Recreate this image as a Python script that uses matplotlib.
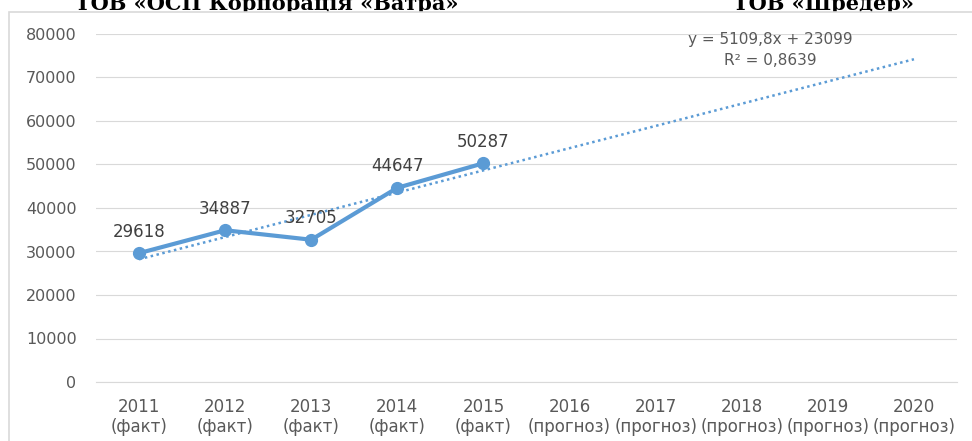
import matplotlib
matplotlib.use("Agg")
import matplotlib.pyplot as plt
from matplotlib.patches import Rectangle
import numpy as np

plt.rcParams['font.family'] = ['DejaVu Sans']

years = ['2011', '2012', '2013', '2014', '2015', '2016', '2017', '2018', '2019', '2020']
kinds = ['(факт)'] * 5 + ['(прогноз)'] * 5
values = [29618, 34887, 32705, 44647, 50287]
yticks = [0, 10000, 20000, 30000, 40000, 50000, 60000, 70000, 80000]
title_left = 'ТОВ «ОСП Корпорація «Ватра»'
title_right = 'ТОВ «Шредер»'

W, H = 972, 441
fig = plt.figure(figsize=(W / 100, H / 100), dpi=100)
fig.patch.set_facecolor('white')

# cut-off heading texts behind the chart frame
fig.text(75 / W, 1 - 10 / H, title_left, family='DejaVu Serif', weight='bold',
         fontsize=15, ha='left', va='baseline', color='black', zorder=0.5)
fig.text(733 / W, 1 - 10 / H, title_right, family='DejaVu Serif', weight='bold',
         fontsize=15, ha='left', va='baseline', color='black', zorder=0.5)

# chart frame
frame = Rectangle((9 / W, -0.05), 1.1, 1 - 12 / H + 0.05, transform=fig.transFigure,
                  facecolor='white', edgecolor='#d9d9d9', linewidth=1.2, zorder=1)
fig.add_artist(frame)

ax = fig.add_axes([96 / W, 1 - 382 / H, 861 / W, 348 / H], zorder=2)
ax.set_facecolor('none')

blue = '#5B9BD5'
n = len(years)
xs = np.arange(n)
xfit = np.arange(1, len(values) + 1)
coef = np.polyfit(xfit, values, 1)
pred = np.polyval(coef, xfit)
r2 = 1 - np.sum((np.array(values) - pred) ** 2) / np.sum((np.array(values) - np.mean(values)) ** 2)
xtr = np.arange(1, n + 1)
ax.plot(xs, np.polyval(coef, xtr), color=blue, linewidth=1.8,
        linestyle=(0, (1, 1.4)), zorder=3)

ax.plot(xs[:len(values)], values, color=blue, linewidth=3.0, marker='o',
        markersize=8.5, zorder=4)
for x, v in zip(xs, values):
    ax.annotate(f'{v}', (x, v), xytext=(0, 15.5), textcoords='offset points',
                ha='center', va='center', fontsize=12, color='#404040', zorder=5)

def fmt(v, d):
    return f'{v:.{d}f}'.replace('.', ',')

ax.text(0.783, 0.985, f'y = {fmt(coef[0], 1)}x + {coef[1]:.0f}', transform=ax.transAxes,
        ha='center', va='center', fontsize=11, color='#595959')
ax.text(0.783, 0.924, f'R² = {fmt(r2, 4)}', transform=ax.transAxes,
        ha='center', va='center', fontsize=11, color='#595959')

ax.set_xlim(-0.5, n - 0.5)
ax.set_ylim(0, 80000)
ax.set_yticks(yticks)
ax.set_yticklabels([str(t) for t in yticks])
ax.set_xticks(xs)
ax.set_xticklabels([f'{y}\n{k}' for y, k in zip(years, kinds)], linespacing=1.12)
ax.tick_params(axis='y', length=0, pad=14, labelsize=11.5, labelcolor='#595959')
ax.tick_params(axis='x', length=0, pad=11.5, labelsize=12, labelcolor='#595959')
ax.grid(axis='y', color='#d9d9d9', linewidth=0.8)
ax.set_axisbelow(True)
for s in ['top', 'right', 'left']:
    ax.spines[s].set_visible(False)
ax.spines['bottom'].set_color('#d9d9d9')
ax.spines['bottom'].set_linewidth(0.8)

fig.savefig('out.png', dpi=100)
